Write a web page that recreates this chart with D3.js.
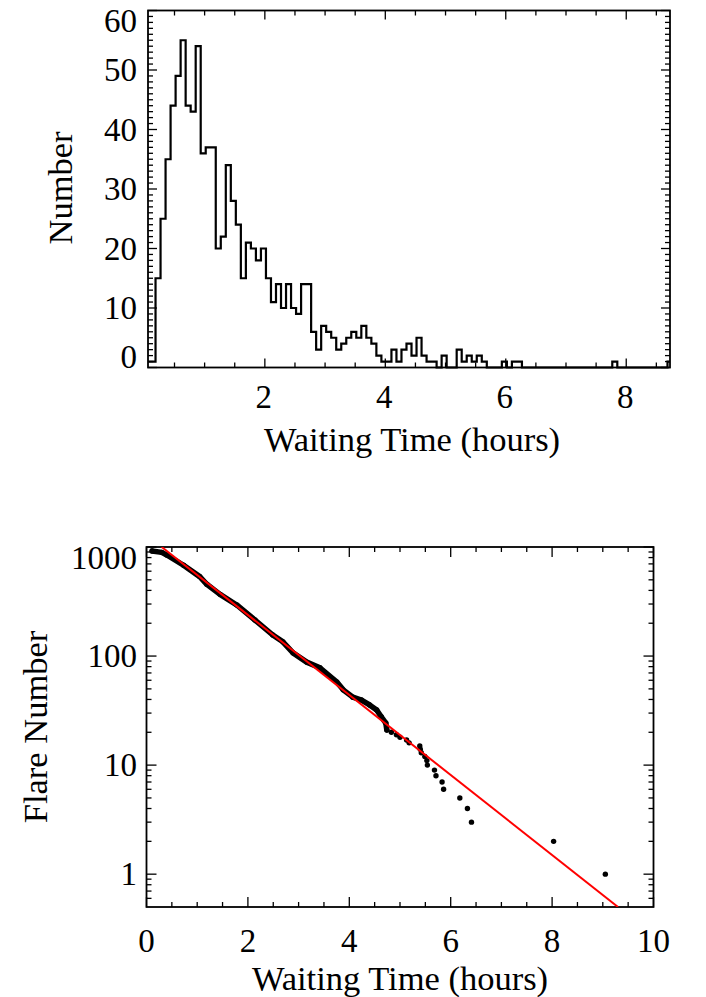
<!DOCTYPE html>
<html>
<head>
<meta charset="utf-8">
<script src="https://cdn.jsdelivr.net/npm/d3@7"></script>
<style>
  body { margin: 0; background: #fff; }
  svg { display: block; }
  text { font-family: "Liberation Serif", "Times New Roman", serif; fill: #000; }
</style>
</head>
<body>
<svg id="chart" width="706" height="997"></svg>
<script>
// ---- Waiting-time histogram (5-minute bins) ----
const histBinStart = 0.06;        // centre of first bin, hours
const histBinWidth = 1 / 12;      // 5 minutes
const histCounts = [
  1, 1, 15, 25, 35, 44, 49, 55, 44, 43,
  54, 36, 37, 37, 20, 22, 34, 28, 24, 15,
  21, 20, 18, 20, 15, 11, 14, 10, 14, 10,
  9, 14, 14, 6, 3, 7, 6, 5, 3, 4,
  5, 6, 5, 7, 5, 4, 2, 1, 1, 3,
  1, 3, 4, 2, 5, 2, 1, 1, 0, 2,
  0, 0, 3, 1, 2, 1, 2, 1, 0, 0,
  0, 1, 0, 1, 1, 0, 0, 0, 0, 0,
  0, 0, 0, 0, 0, 0, 0, 0, 0, 0,
  0, 0, 0, 1, 0, 0, 0, 0, 0, 0,
  0, 0, 0, 0, 1
];
const histXTicks = [2, 4, 6, 8];
const histYTicks = [0, 10, 20, 30, 40, 50, 60];

// ---- Cumulative flare number vs waiting time ----
// densely sampled part of the distribution
const cumTimes  = [0.11, 0.30, 0.40, 0.73, 1.05, 1.19, 1.45, 1.78, 2.14, 2.49, 2.69, 2.89, 3.16, 3.42, 3.75, 3.88, 4.07, 4.24, 4.40, 4.54, 4.63, 4.72, 4.74];
const cumCounts = [918, 893, 845, 680, 535, 455, 368, 294, 214, 156, 135, 107, 88, 78, 58, 49, 42, 39.5, 35.6, 32, 27.8, 24.3, 21];
// sparse tail, one point per flare
const tailTimes  = [4.83, 4.93, 5.00, 5.13, 5.18, 5.39, 5.40, 5.42, 5.49, 5.53, 5.54, 5.68, 5.71, 5.83, 5.86, 6.18, 6.33, 6.41, 8.03, 9.05];
const tailCounts = [20, 19, 18, 17, 16, 15, 14, 13, 12, 11, 10, 9, 8, 7, 6, 5, 4, 3, 2, 1];
// exponential fit, end points
const fitTimes  = [0.30, 9.30];
const fitCounts = [1000, 0.5];
const cdfXTicks = [0, 2, 4, 6, 8, 10];
const cdfYTicks = [1, 10, 100, 1000];

const svg = d3.select("#chart");
const TICK_FONT = 33;
const TITLE_FONT = 34.5;

function frameTicks(g, x, y, xMajor, xMinor, yMajor, yMinor, majLen, minLen) {
  const [x0, x1] = x.range();
  const [y0, y1] = y.range(); // y0 bottom, y1 top
  const seg = [];
  xMajor.forEach(v => { seg.push([x(v), y0, x(v), y0 - majLen]); seg.push([x(v), y1, x(v), y1 + majLen]); });
  xMinor.forEach(v => { seg.push([x(v), y0, x(v), y0 - minLen]); seg.push([x(v), y1, x(v), y1 + minLen]); });
  yMajor.forEach(v => { seg.push([x0, y(v), x0 + majLen, y(v)]); seg.push([x1, y(v), x1 - majLen, y(v)]); });
  yMinor.forEach(v => { seg.push([x0, y(v), x0 + minLen, y(v)]); seg.push([x1, y(v), x1 - minLen, y(v)]); });
  g.selectAll("line.tk").data(seg).join("line")
    .attr("class", "tk")
    .attr("x1", d => d[0]).attr("y1", d => d[1])
    .attr("x2", d => d[2]).attr("y2", d => d[3])
    .attr("stroke", "#000").attr("stroke-width", 1.3);
  g.append("rect")
    .attr("x", x0).attr("y", y1)
    .attr("width", x1 - x0).attr("height", y0 - y1)
    .attr("fill", "none").attr("stroke", "#000").attr("stroke-width", 1.8);
}

// ================= Top panel: histogram =================
{
  const g = svg.append("g");
  const nBins = histCounts.length;
  const centres = histCounts.map((_, i) => histBinStart + i * histBinWidth);
  const x = d3.scaleLinear().domain([centres[0], centres[nBins - 1]]).range([148, 670]);
  const y = d3.scaleLinear().domain([0, 60]).range([367.5, 10.5]);

  const xMinor = d3.range(0.5, 8.75, 0.5).filter(v => v % 2 !== 0 && v >= x.domain()[0] && v <= x.domain()[1]);
  const yMinor = d3.range(1, 60, 1).filter(v => v % 10 !== 0);
  frameTicks(g, x, y, histXTicks, xMinor, histYTicks, yMinor, 9, 5);

  const line = d3.line().curve(d3.curveStep)
    .x((d, i) => x(centres[i])).y(d => y(d));
  g.append("path").datum(histCounts)
    .attr("d", line)
    .attr("fill", "none").attr("stroke", "#000").attr("stroke-width", 2.2)
    .attr("stroke-linejoin", "miter");

  g.selectAll("text.xl").data(histXTicks).join("text")
    .attr("class", "xl")
    .attr("x", d => x(d) - 1).attr("y", 408)
    .attr("text-anchor", "middle").attr("font-size", TICK_FONT)
    .text(d => d);
  const [yb, yt] = y.range();
  g.selectAll("text.yl").data(histYTicks).join("text")
    .attr("class", "yl")
    .attr("x", 137)
    .attr("y", d => Math.min(Math.max(y(d), yt + 10), yb - 11))
    .attr("dy", "0.34em")
    .attr("text-anchor", "end").attr("font-size", TICK_FONT)
    .text(d => d);
  g.append("text")
    .attr("x", 412).attr("y", 451)
    .attr("text-anchor", "middle").attr("font-size", TITLE_FONT)
    .text("Waiting Time (hours)");
  g.append("text")
    .attr("transform", "translate(72,188) rotate(-90)")
    .attr("text-anchor", "middle").attr("font-size", TITLE_FONT)
    .text("Number");
}

// ================= Bottom panel: cumulative distribution =================
{
  const g = svg.append("g");
  const x = d3.scaleLinear().domain([0, 10]).range([146.5, 653.5]);
  const y = d3.scaleLog().domain([0.5, 1000]).range([907, 547]);

  const xMinor = d3.range(0.5, 10, 0.5).filter(v => v % 2 !== 0);
  const yMinor = [];
  [0.1, 1, 10, 100].forEach(dec => d3.range(2, 10).forEach(m => {
    const v = dec * m;
    if (v > 0.5 && v < 1000) yMinor.push(v);
  }));
  frameTicks(g, x, y, cdfXTicks, xMinor, cdfYTicks, yMinor, 10, 5);

  svg.append("defs").append("clipPath").attr("id", "cdfClip")
    .append("rect").attr("x", 146.5).attr("y", 547).attr("width", 507).attr("height", 360);

  const plot = g.append("g").attr("clip-path", "url(#cdfClip)");

  // dense part drawn as a chain of overlapping markers
  const dense = cumTimes.map((t, i) => [t, cumCounts[i]]);
  plot.append("path").datum(dense)
    .attr("d", d3.line().x(d => x(d[0])).y(d => y(d[1])))
    .attr("fill", "none").attr("stroke", "#000").attr("stroke-width", 5.5)
    .attr("stroke-linecap", "round").attr("stroke-linejoin", "round");
  const pts = dense.concat(tailTimes.map((t, i) => [t, tailCounts[i]]));
  plot.selectAll("circle").data(pts).join("circle")
    .attr("cx", d => x(d[0])).attr("cy", d => y(d[1])).attr("r", 2.7)
    .attr("fill", "#000");

  const fit = fitTimes.map((t, i) => [t, fitCounts[i]]);
  plot.append("path").datum(fit)
    .attr("d", d3.line().x(d => x(d[0])).y(d => y(d[1])))
    .attr("fill", "none").attr("stroke", "#f00").attr("stroke-width", 2);

  g.selectAll("text.xl").data(cdfXTicks).join("text")
    .attr("class", "xl")
    .attr("x", d => x(d)).attr("y", 952)
    .attr("text-anchor", "middle").attr("font-size", TICK_FONT)
    .text(d => d);
  const [yb, yt] = y.range();
  g.selectAll("text.yl").data(cdfYTicks).join("text")
    .attr("class", "yl")
    .attr("x", 137)
    .attr("y", d => Math.min(Math.max(y(d), yt + 11), yb - 11))
    .attr("dy", "0.34em")
    .attr("text-anchor", "end").attr("font-size", TICK_FONT)
    .text(d => d);
  g.append("text")
    .attr("x", 400).attr("y", 990)
    .attr("text-anchor", "middle").attr("font-size", TITLE_FONT)
    .text("Waiting Time (hours)");
  g.append("text")
    .attr("transform", "translate(47,727) rotate(-90)")
    .attr("text-anchor", "middle").attr("font-size", TITLE_FONT)
    .text("Flare Number");
}
</script>
</body>
</html>
